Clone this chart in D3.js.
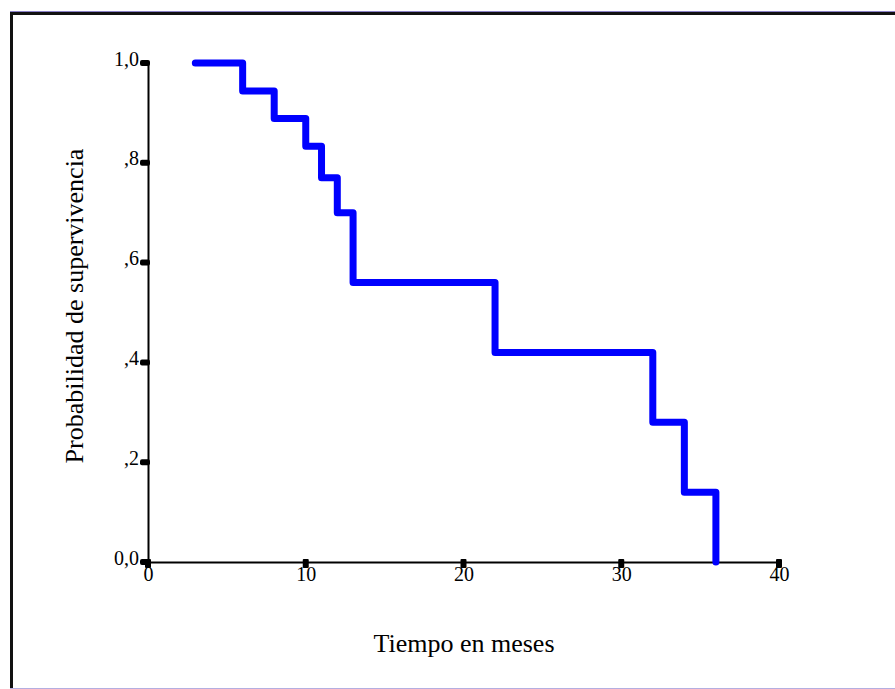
<!DOCTYPE html>
<html>
<head>
<meta charset="utf-8">
<script src="https://cdn.jsdelivr.net/npm/d3@7"></script>
<style>
  html, body { margin: 0; padding: 0; background: #fff; }
  svg { display: block; }
</style>
</head>
<body>
<div id="chart"></div>
<script>
// Kaplan-Meier steps
const stepTimes = [3, 6, 8, 10, 11, 12, 13, 22, 32, 34, 36];
const survival = [1.0, 0.944, 0.889, 0.833, 0.77, 0.70, 0.56, 0.42, 0.28, 0.14, 0.0];
const xTicks = [0, 10, 20, 30, 40];
const yTicks = [0, 0.2, 0.4, 0.6, 0.8, 1.0];
const yTickLabels = ["0,0", ",2", ",4", ",6", ",8", "1,0"];

const width = 895, height = 689;
const plotLeft = 148, plotRight = 779, plotTop = 63, plotBottom = 562;
const serif = "'Liberation Serif', 'Times New Roman', serif";

const svg = d3.select("#chart").append("svg")
    .attr("width", width)
    .attr("height", height);

// frame
svg.append("line").attr("x1", 10).attr("x2", width).attr("y1", 11.5).attr("y2", 11.5)
    .attr("stroke", "#8a80c8").attr("stroke-width", 1);
svg.append("line").attr("x1", 10).attr("x2", width).attr("y1", 13.5).attr("y2", 13.5)
    .attr("stroke", "#111").attr("stroke-width", 3);
svg.append("line").attr("x1", 11.5).attr("x2", 11.5).attr("y1", 12).attr("y2", height)
    .attr("stroke", "#111").attr("stroke-width", 3);
svg.append("line").attr("x1", 10).attr("x2", width).attr("y1", 688.5).attr("y2", 688.5)
    .attr("stroke", "#b4aee0").attr("stroke-width", 1);

const x = d3.scaleLinear().domain([0, 40]).range([plotLeft, plotRight]);
const y = d3.scaleLinear().domain([0, 1]).range([plotBottom, plotTop]);

// axes
const xAxis = d3.axisBottom(x).tickValues(xTicks).tickSize(0).tickPadding(5);
const gx = svg.append("g").attr("transform", `translate(0,${plotBottom})`).call(xAxis);
gx.attr("font-family", serif).attr("font-size", 20);
gx.select(".domain").attr("stroke", "#000").attr("stroke-width", 2);
gx.selectAll("text").attr("fill", "#000");

const yAxis = d3.axisLeft(y).tickValues(yTicks).tickSize(0).tickPadding(9)
    .tickFormat((d, i) => yTickLabels[i]);
const gy = svg.append("g").attr("transform", `translate(${plotLeft},0)`).call(yAxis);
gy.attr("font-family", serif).attr("font-size", 20);
gy.select(".domain").attr("stroke", "#000").attr("stroke-width", 2);
gy.selectAll("text").attr("fill", "#000").attr("dy", "0.1em");

// tick blobs
svg.selectAll("rect.xt").data(xTicks).enter().append("rect")
    .attr("class", "xt")
    .attr("x", d => x(d) - 3).attr("y", plotBottom - 3)
    .attr("width", 6).attr("height", 9).attr("rx", 1).attr("fill", "#000");
svg.selectAll("rect.yt").data(yTicks).enter().append("rect")
    .attr("class", "yt")
    .attr("x", plotLeft - 8).attr("y", d => y(d) - 3)
    .attr("width", 10).attr("height", 6).attr("rx", 2).attr("fill", "#000");

// survival curve
const pts = stepTimes.map((t, i) => [t, survival[i]]);
const line = d3.line()
    .x(d => x(d[0]))
    .y(d => y(d[1]))
    .curve(d3.curveStepAfter);
svg.append("path")
    .datum(pts)
    .attr("d", line)
    .attr("fill", "none")
    .attr("stroke", "#0000ff")
    .attr("stroke-width", 7)
    .attr("stroke-linejoin", "round")
    .attr("stroke-linecap", "round");

// axis titles
svg.append("text")
    .attr("x", 464)
    .attr("y", 652)
    .attr("text-anchor", "middle")
    .attr("font-family", serif)
    .attr("font-size", 26)
    .attr("fill", "#000")
    .text("Tiempo en meses");

svg.append("text")
    .attr("transform", `translate(83,306) rotate(-90)`)
    .attr("text-anchor", "middle")
    .attr("font-family", serif)
    .attr("font-size", 26)
    .attr("fill", "#000")
    .text("Probabilidad de supervivencia");
</script>
</body>
</html>
